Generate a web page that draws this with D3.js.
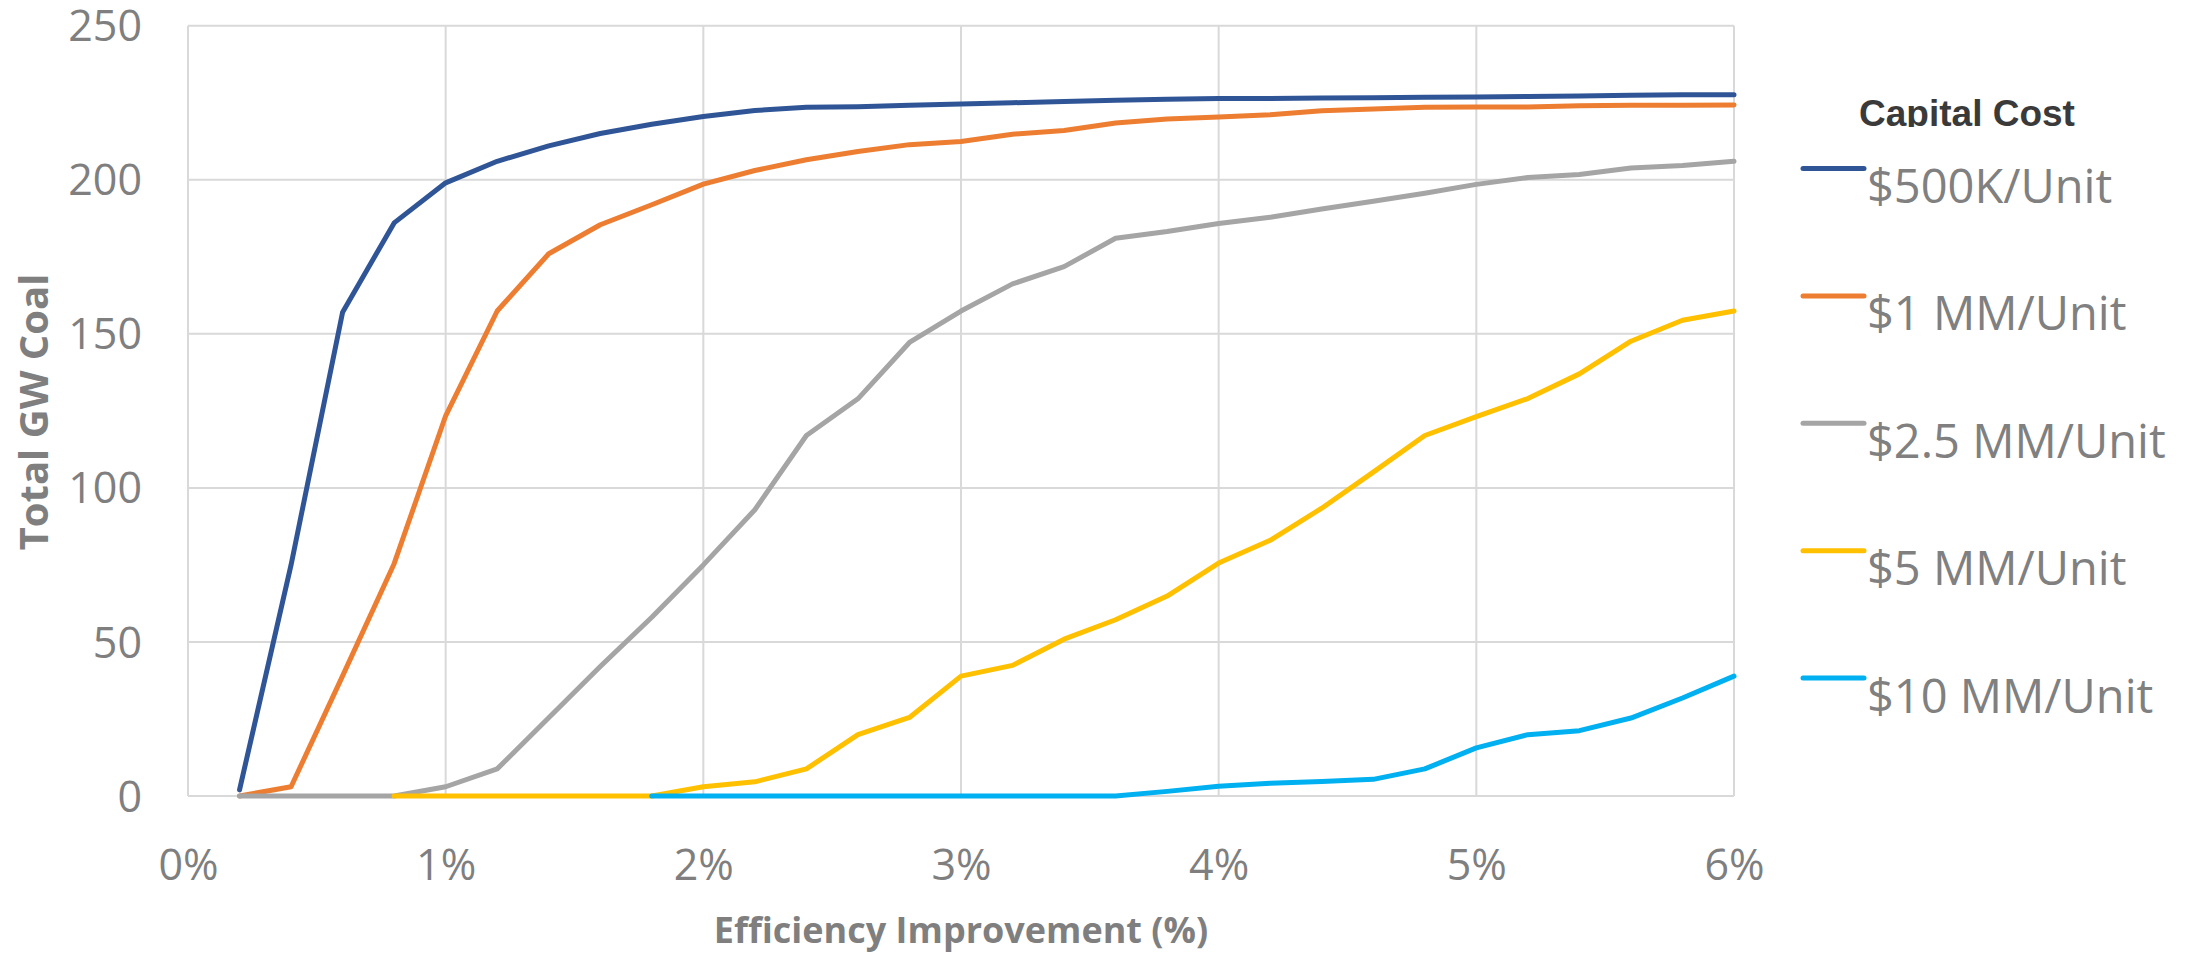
<!DOCTYPE html>
<html>
<head>
<meta charset="utf-8">
<script src="https://cdn.jsdelivr.net/npm/d3@7"></script>
<style>
  html, body { margin: 0; padding: 0; background: #ffffff; }
  svg { display: block; }
</style>
</head>
<body>
<svg id="chart" width="2198" height="953"></svg>
<script>
// Efficiency improvement (%) at each step
const efficiency = [0.2,0.4,0.6,0.8,1.0,1.2,1.4,1.6,1.8,2.0,2.2,2.4,2.6,2.8,3.0,
                    3.2,3.4,3.6,3.8,4.0,4.2,4.4,4.6,4.8,5.0,5.2,5.4,5.6,5.8,6.0];

// Total GW of coal for each capital cost level (null = no result)
const cost500k = [2,75,157,186,199,206,211,215,218,220.5,222.5,223.5,223.7,224.2,224.6,
                  225,225.4,225.8,226.1,226.4,226.4,226.5,226.6,226.8,226.9,227,227.2,227.4,227.6,227.6];
const cost1mm  = [0,3,39,75.4,123.4,157.4,176,185.4,191.9,198.6,203,206.5,209.2,211.4,212.4,
                  214.8,216,218.4,219.7,220.4,221.1,222.4,223,223.5,223.6,223.6,224,224.2,224.2,224.3];
const cost2_5mm = [0,0,0,0,3,8.8,25.4,42,58,75,92.9,117,128.9,147.2,157.4,
                   166.2,171.8,181,183.2,185.8,187.8,190.5,193,195.6,198.5,200.7,201.7,203.8,204.6,206];
const cost5mm  = [null,null,null,0,0,0,0,0,0,3,4.6,8.8,19.9,25.5,38.9,
                  42.4,50.9,57.2,64.9,75.6,83,93.4,105.1,117,123.1,129,137,147.6,154.4,157.4];
const cost10mm = [null,null,null,null,null,null,null,null,0,0,0,0,0,0,0,
                  0,0,0,1.5,3.2,4.1,4.7,5.4,8.8,15.6,19.9,21.2,25.3,31.8,38.9];

const seriesNames  = ["$500K/Unit", "$1 MM/Unit", "$2.5 MM/Unit", "$5 MM/Unit", "$10 MM/Unit"];
const seriesValues = [cost500k, cost1mm, cost2_5mm, cost5mm, cost10mm];
const seriesColors = ["#2f5597", "#ed7d31", "#a5a5a5", "#ffc000", "#00b0f0"];

const xTicks = [0, 1, 2, 3, 4, 5, 6];
const yTicks = [0, 50, 100, 150, 200, 250];

const svg = d3.select("#chart");

const plot = { left: 188, right: 1734, top: 25.7, bottom: 796 };

const x = d3.scaleLinear().domain([0, 6]).range([plot.left, plot.right]);
const y = d3.scaleLinear().domain([0, 250]).range([plot.bottom, plot.top]);

const grey = "#7f7f7f";
const gridColor = "#d9d9d9";

// Gridlines
const grid = svg.append("g");
grid.selectAll("line.h").data(yTicks).join("line")
  .attr("x1", plot.left).attr("x2", plot.right)
  .attr("y1", d => y(d)).attr("y2", d => y(d))
  .attr("stroke", gridColor).attr("stroke-width", 2);
grid.selectAll("line.v").data(xTicks).join("line")
  .attr("y1", plot.top).attr("y2", plot.bottom)
  .attr("x1", d => x(d)).attr("x2", d => x(d))
  .attr("stroke", gridColor).attr("stroke-width", 2);

// Axes (labels only, no domain/ticks)
const yAxis = d3.axisLeft(y).tickValues(yTicks).tickSize(0).tickPadding(0);
const yg = svg.append("g").attr("transform", `translate(142,0)`).call(yAxis);
yg.select(".domain").remove();
yg.selectAll("text")
  .attr("font-family", "'Open Sans', sans-serif")
  .attr("font-size", 43)
  .attr("fill", grey)
  .attr("dy", "0.35em")
  .attr("x", 0);

const xAxis = d3.axisBottom(x).tickValues(xTicks).tickSize(0).tickPadding(0)
  .tickFormat(d => d + "%");
const xg = svg.append("g").attr("transform", `translate(0,${plot.bottom})`).call(xAxis);
xg.select(".domain").remove();
xg.selectAll("text")
  .attr("font-family", "'Open Sans', sans-serif")
  .attr("font-size", 43)
  .attr("fill", grey)
  .attr("dy", 0)
  .attr("y", 84);

// Axis titles
svg.append("text")
  .attr("x", 961).attr("y", 943)
  .attr("text-anchor", "middle")
  .attr("font-family", "'Open Sans', sans-serif")
  .attr("font-weight", "bold")
  .attr("font-size", 36)
  .attr("fill", grey)
  .text("Efficiency Improvement (%)");

svg.append("text")
  .attr("transform", "translate(48,412) rotate(-90)")
  .attr("text-anchor", "middle")
  .attr("font-family", "'Open Sans', sans-serif")
  .attr("font-weight", "bold")
  .attr("font-size", 40)
  .attr("fill", grey)
  .text("Total GW Coal");

// Series lines
const line = d3.line()
  .defined(d => d.v !== null)
  .x(d => x(d.p))
  .y(d => y(d.v));

svg.append("g").selectAll("path")
  .data(seriesValues.map((vals, i) => ({
    color: seriesColors[i],
    points: efficiency.map((p, j) => ({ p, v: vals[j] }))
  })))
  .join("path")
  .attr("d", d => line(d.points))
  .attr("fill", "none")
  .attr("stroke", d => d.color)
  .attr("stroke-width", 5)
  .attr("stroke-linecap", "round")
  .attr("stroke-linejoin", "round");

// Legend
const legend = svg.append("g");
svg.append("defs").append("clipPath").attr("id", "legendTitleClip")
  .append("rect").attr("x", 1800).attr("y", 60).attr("width", 398).attr("height", 67);

legend.append("text")
  .attr("x", 1967).attr("y", 126)
  .attr("text-anchor", "middle")
  .attr("clip-path", "url(#legendTitleClip)")
  .attr("font-family", "Arial, 'Liberation Sans', sans-serif")
  .attr("font-weight", "bold")
  .attr("font-size", 37)
  .attr("fill", "#3a3a3a")
  .text("Capital Cost");

const legendY = d3.scaleLinear().domain([0, 4]).range([168.5, 678]);

const items = legend.selectAll("g.item")
  .data(seriesNames.map((name, i) => ({ name, color: seriesColors[i], i })))
  .join("g").attr("class", "item");

items.append("line")
  .attr("x1", 1803).attr("x2", 1864)
  .attr("y1", d => legendY(d.i)).attr("y2", d => legendY(d.i))
  .attr("stroke", d => d.color)
  .attr("stroke-width", 5)
  .attr("stroke-linecap", "round");

items.append("text")
  .attr("x", 1867)
  .attr("y", d => legendY(d.i) + 34.5)
  .attr("font-family", "'Open Sans', sans-serif")
  .attr("font-size", 47)
  .attr("fill", "#808080")
  .text(d => d.name);
</script>
</body>
</html>
